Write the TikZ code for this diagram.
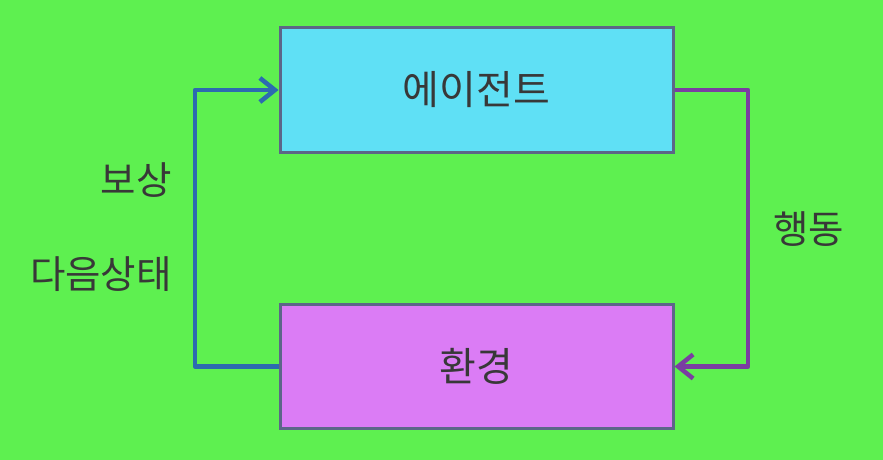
\documentclass[tikz,border=0pt]{standalone}
\usepackage{fontspec}
\setmainfont{Noto Sans CJK KR}
\usetikzlibrary{arrows.meta}
\definecolor{bg}{HTML}{5EF050}
\definecolor{agentfill}{HTML}{5FE0F5}
\definecolor{envfill}{HTML}{DB7CF5}
\definecolor{boxline}{HTML}{5C6688}
\definecolor{blueline}{HTML}{2C6BB0}
\definecolor{purpline}{HTML}{7A3DA2}
\definecolor{txt}{HTML}{383838}
\tikzset{
  box/.style={draw=boxline, line width=3pt, minimum width=393pt, minimum height=124pt, inner sep=0pt, text=txt, font=\fontsize{40}{44}\selectfont},
  lbl/.style={text=txt, font=\fontsize{38.5}{44}\selectfont, inner sep=0pt},
  conn/.style={line width=4.5pt, line join=round, -{Straight Barb[length=15pt,width=24pt,line width=4.5pt]}}
}
\begin{document}
\begin{tikzpicture}[x=1pt,y=-1pt]
\fill[bg] (0,0) rectangle (883,460);
\useasboundingbox (0,0) rectangle (883,460);
\node[box, fill=agentfill] (agent) at (476.5,90) {에이전트};
\node[box, fill=envfill] (env) at (476.5,366.5) {환경};
\coordinate (lt) at (195,90);
\coordinate (lb) at (195,366.5);
\coordinate (rt) at (748,90);
\coordinate (rb) at (748,366.5);
\draw[conn, blueline] (env.west) -- (lb) -- (lt) -- (agent.west);
\draw[conn, purpline] (agent.east) -- (rt) -- (rb) -- (env.east);
\node[lbl, anchor=east] (reward) at (172,180) {보상};
\node[lbl, anchor=east] (state) at (172,274) {다음상태};
\node[lbl, anchor=west] (action) at (773,229) {행동};
\end{tikzpicture}
\end{document}
